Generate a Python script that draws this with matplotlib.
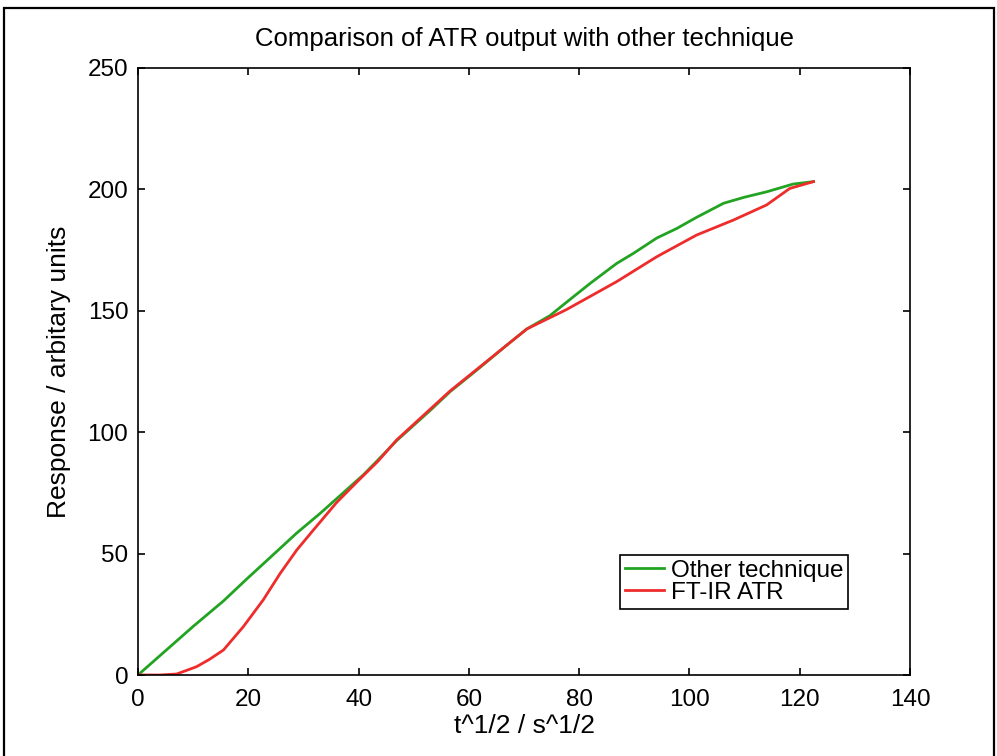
import numpy as np
import matplotlib
matplotlib.use("Agg")
import matplotlib.pyplot as plt
from matplotlib.patches import Rectangle

plt.rcParams['font.family'] = ['Liberation Sans', 'DejaVu Sans']

# --------- data ---------
other_x = [0, 5, 10, 15.5, 19.7, 24.5, 28.8, 33, 37.2, 40.9, 43.5, 46.9, 53, 56.6, 61.4,
           66.9, 70.5, 74.7, 77.7, 82, 86.8, 89.8, 94.1, 97.7, 101.3, 106.2, 110,
           114, 118.8, 122.5]
other_y = [0, 10, 20, 30.5, 39.5, 49.5, 58.5, 66.5, 75, 82.5, 88.5, 96.5, 109, 116.7, 125.5,
           135.9, 142.5, 148, 153.5, 161.3, 169.5, 173.6, 180, 183.9, 188.5, 194.3, 196.8,
           199, 202.2, 203.2]

atr_x = [0, 4, 7, 10.6, 13, 15.5, 19.1, 22.7, 25.8, 28.8, 31.8, 36, 39.7, 43.5, 46.9, 53,
         56.6, 61.4, 66.9, 70.5, 77.7, 86.8, 94.1, 101.3, 108, 114, 118.2, 122.5]
atr_y = [0, 0, 0.4, 3.4, 6.5, 10.3, 19.9, 30.9, 41.9, 51.5, 59.7, 71, 79.5, 88, 96.8, 109.5,
         117, 125.8, 135.9, 142.5, 150.5, 162, 172.3, 181.2, 187.4, 193.6, 200.4, 203.2]

xticks = [0, 20, 40, 60, 80, 100, 120, 140]
yticks = [0, 50, 100, 150, 200, 250]

# --------- plot ---------
fig = plt.figure(figsize=(9.97, 7.56), dpi=100)
ax = fig.add_axes([138/997, 1-675/756, (910-138)/997, (675-68)/756])

ax.plot(other_x, other_y, color='#22a322', lw=2.0, label='Other technique')
ax.plot(atr_x, atr_y, color='#ee2c2c', lw=2.0, label='FT-IR ATR')

ax.set_xlim(0, 140)
ax.set_ylim(0, 250)
ax.set_xticks(xticks)
ax.set_yticks(yticks)
ax.tick_params(direction='in', top=True, right=True, length=5, width=1.2,
               labelsize=17.5)
ax.tick_params(axis='x', pad=10)
ax.tick_params(axis='y', pad=7)
for s in ax.spines.values():
    s.set_linewidth(1.2)

ax.set_title('Comparison of ATR output with other technique', fontsize=18.5, pad=16)
ax.set_xlabel('t^1/2 / s^1/2', fontsize=19, labelpad=2)
ax.set_ylabel('Response / arbitary units', fontsize=19, labelpad=12)

leg = ax.legend(loc='upper left', bbox_to_anchor=(620/997, 1-555/756),
                bbox_transform=fig.transFigure, fontsize=17.5, frameon=True,
                fancybox=False, edgecolor='black', framealpha=1,
                handlelength=1.6, handletextpad=0.3, labelspacing=0.0,
                borderpad=0.2, borderaxespad=0)
leg.get_frame().set_linewidth(1.2)

# scanned page frame
fig.patches.append(Rectangle((4/997, -0.02), (994-4)/997, 1-8/756+0.02,
                             transform=fig.transFigure, fill=False,
                             edgecolor='black', lw=1.6))

fig.savefig('out.png', dpi=100)
